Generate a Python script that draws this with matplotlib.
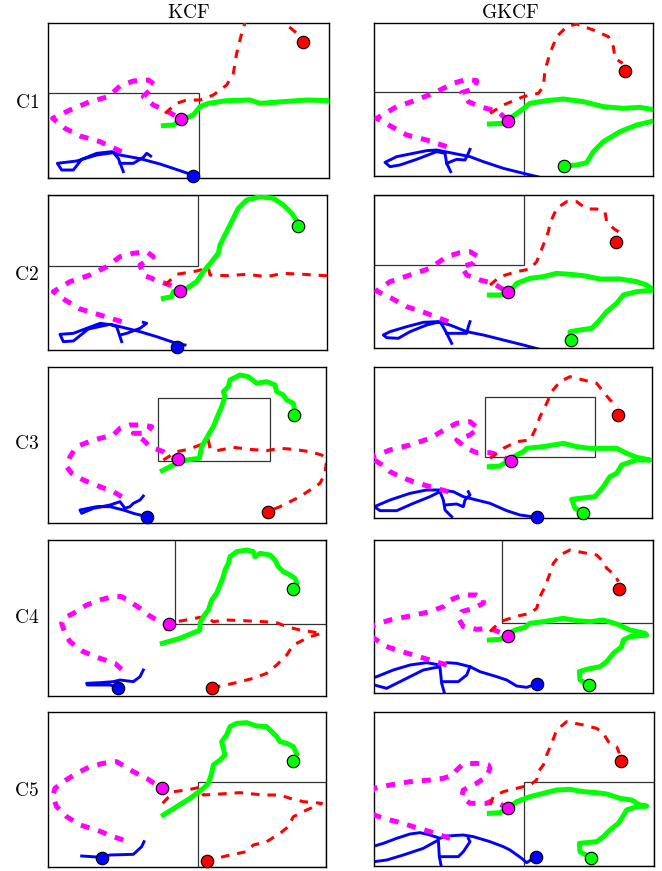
import numpy as np
import matplotlib
matplotlib.use("Agg")
import matplotlib.pyplot as plt
import matplotlib.patches as patches

plt.rcParams["mathtext.fontset"] = "cm"

W, H = 662, 871

RED = "#ff0000"
MAGENTA = "#ff00ff"
GREEN = "#00ff00"
BLUE = "#0000ff"

columns = ["KCF", "GKCF"]
rows = ["C1", "C2", "C3", "C4", "C5"]

# trajectories (image units, y grows downwards)
# ---- C1 ----
c1_kcf_red = [(495, 340), (530, 310), (560, 300), (600, 300), (640, 285), (680, 255), (700, 220), (710, 160),
              (725, 100), (735, 68), (745, 35), (790, 15), (840, 50), (860, 75), (885, 95), (905, 112)]
c1_kcf_magenta = [(365, 455), (300, 425), (240, 408), (195, 385), (158, 355), (210, 330), (270, 305), (325, 290),
                  (360, 258), (400, 243), (445, 240), (462, 252), (455, 265), (430, 290), (460, 315), (500, 333), (543, 357)]
c1_kcf_green = [(490, 377), (520, 375), (545, 360), (580, 345), (600, 320), (625, 310), (680, 302), (750, 300),
                (780, 310), (850, 305), (920, 300), (990, 302)]
c1_kcf_blue = [
    [(578, 525), (540, 512), (480, 492), (420, 476), (360, 465), (335, 455), (290, 460), (245, 478), (220, 510),
     (185, 510), (172, 490), (230, 483), (290, 465), (340, 458), (355, 475), (370, 515)],
    [(360, 490), (400, 490), (430, 472), (440, 460), (452, 468)],
]
c1_kcf_dots = {"red": (910, 125), "magenta": (543, 357), "blue": (578, 528)}
c1_kcf_inset = (145, 280, 597, 535)

c1_gkcf_red = [(480, 340), (520, 315), (580, 290), (625, 280), (640, 260), (645, 210), (660, 160), (680, 110),
               (710, 80), (740, 72), (790, 90), (835, 110), (850, 140), (855, 175), (878, 190)]
c1_gkcf_magenta = [(350, 440), (290, 420), (230, 405), (185, 380), (140, 355), (200, 320), (260, 300), (320, 275),
                   (370, 250), (410, 238), (440, 242), (435, 265), (395, 278), (415, 305), (450, 320), (505, 335), (533, 362)]
c1_gkcf_green = [(478, 372), (520, 370), (540, 355), (575, 330), (600, 310), (650, 302), (700, 297), (760, 305),
                 (820, 320), (880, 325), (930, 322), (975, 330), (1000, 345), (975, 362), (920, 375), (870, 395),
                 (820, 425), (790, 455), (770, 488), (740, 495), (703, 498)]
c1_gkcf_blue = [
    [(630, 532), (580, 520), (520, 505), (460, 485), (420, 470), (360, 458), (320, 450), (290, 452), (250, 460),
     (200, 470), (165, 487), (180, 500), (210, 495), (260, 478), (320, 455), (345, 460), (350, 490), (362, 515)],
    [(350, 490), (380, 478), (405, 480), (415, 460), (420, 448)],
]
c1_gkcf_dots = {"red": (885, 212), "magenta": (533, 362), "green": (703, 498)}
c1_gkcf_inset = (133, 276, 583, 527)

# ---- C2 ----
c2_kcf_red = [(495, 300), (530, 268), (590, 258), (625, 248), (630, 270), (680, 272), (740, 268), (800, 275),
              (850, 265), (910, 268), (975, 272), (1000, 272)]
c2_kcf_magenta = [(365, 410), (300, 390), (240, 372), (195, 345), (160, 320), (210, 290), (270, 270), (320, 245),
                  (360, 215), (400, 205), (440, 200), (460, 215), (420, 240), (430, 270), (480, 290), (510, 300), (540, 318)]
c2_kcf_green = [(490, 340), (515, 335), (520, 320), (560, 310), (590, 290), (610, 260), (635, 230), (655, 205),
                (660, 180), (680, 140), (700, 100), (715, 70), (740, 45), (780, 35), (820, 40), (850, 60), (875, 85), (893, 112)]
c2_kcf_blue = [
    [(555, 480), (520, 472), (470, 455), (420, 440), (380, 430), (340, 420), (300, 415), (260, 430), (220, 445),
     (180, 448), (190, 470), (220, 468), (265, 432), (330, 418), (350, 425), (365, 470)],
    [(360, 450), (380, 445), (420, 430), (440, 415), (430, 412)],
]
c2_kcf_dots = {"magenta": (540, 318), "green": (893, 122), "blue": (530, 485)}
c2_kcf_inset = (145, 30, 595, 243)

c2_gkcf_red = [(480, 300), (510, 275), (560, 260), (600, 252), (620, 230), (640, 180), (655, 140), (660, 115),
               (680, 70), (710, 50), (740, 50), (770, 72), (800, 72), (825, 80), (830, 110), (850, 130), (880, 150)]
c2_gkcf_magenta = [(355, 410), (290, 385), (230, 365), (185, 340), (140, 318), (180, 290), (240, 270), (300, 250),
                   (350, 215), (390, 203), (420, 200), (445, 215), (430, 235), (395, 245), (410, 270), (450, 285),
                   (490, 295), (533, 322)]
c2_gkcf_green = [(478, 330), (510, 330), (540, 320), (560, 295), (600, 280), (640, 275), (680, 265), (720, 268),
                 (760, 272), (810, 282), (870, 282), (920, 290), (950, 300), (970, 315), (920, 320), (880, 330),
                 (860, 355), (830, 380), (805, 410), (785, 430), (750, 435), (720, 440), (722, 465)]
c2_gkcf_blue = [
    [(625, 492), (580, 480), (520, 465), (460, 450), (410, 440), (360, 420), (320, 410), (280, 412), (230, 425),
     (180, 440), (160, 450), (170, 458), (205, 460), (240, 440), (290, 420), (330, 410), (345, 435), (365, 475)],
    [(350, 445), (410, 445), (415, 425), (420, 410)],
]
c2_gkcf_dots = {"red": (857, 172), "magenta": (533, 322), "green": (723, 465)}
c2_gkcf_inset = (133, 31, 583, 240)

# ---- C3 ----
c3_kcf_red = [(490, 300), (530, 275), (565, 268), (600, 255), (625, 240), (630, 265), (650, 272), (700, 262),
              (750, 268), (800, 272), (840, 265), (880, 268), (930, 275), (965, 285), (980, 300), (975, 340),
              (960, 370), (930, 390), (900, 410), (870, 425), (840, 440), (803, 455)]
c3_kcf_magenta = [(365, 410), (340, 395), (300, 380), (250, 360), (215, 340), (200, 320), (210, 290), (230, 260),
                  (280, 240), (340, 225), (360, 205), (390, 195), (430, 195), (455, 200), (440, 220), (400, 220),
                  (430, 240), (450, 260), (490, 275), (510, 290), (533, 298)]
c3_kcf_green = [(487, 332), (520, 315), (560, 300), (598, 295), (605, 260), (625, 225), (640, 200), (650, 175),
                (665, 140), (675, 110), (670, 95), (685, 80), (690, 60), (720, 45), (745, 50), (770, 70), (800, 65),
                (825, 75), (830, 95), (850, 105), (860, 120), (880, 130), (885, 155)]
c3_kcf_blue = [
    [(440, 470), (400, 460), (370, 450), (330, 440), (290, 440), (240, 450), (245, 460), (280, 445), (330, 435),
     (360, 425), (375, 445), (390, 440), (400, 430), (420, 420), (430, 408)],
]
c3_kcf_dots = {"red": (803, 455), "magenta": (533, 298), "green": (882, 165), "blue": (440, 470)}
c3_kcf_inset = (475, 115, 810, 302)

c3_gkcf_red = [(480, 295), (520, 265), (560, 245), (600, 240), (615, 210), (630, 170), (650, 130), (665, 95),
               (690, 65), (720, 50), (760, 60), (800, 70), (820, 95), (840, 120), (865, 140)]
c3_gkcf_magenta = [(355, 395), (300, 380), (250, 365), (210, 350), (180, 335), (165, 320), (133, 300), (110, 295),
                   (133, 288), (180, 270), (240, 255), (300, 235), (350, 205), (380, 190), (420, 185), (445, 205),
                   (420, 225), (380, 240), (410, 265), (440, 278), (480, 278), (505, 285), (543, 302)]
c3_gkcf_green = [(478, 320), (510, 318), (530, 305), (560, 285), (580, 275), (590, 265), (640, 260), (700, 250),
                 (740, 260), (780, 265), (860, 265), (890, 280), (920, 292), (960, 300), (920, 300), (875, 315),
                 (860, 340), (840, 350), (820, 380), (795, 410), (750, 415), (725, 418), (735, 445), (760, 458)]
c3_gkcf_blue = [
    [(620, 472), (570, 465), (530, 452), (480, 430), (440, 420), (400, 410), (370, 395), (330, 390), (290, 390),
     (240, 400), (180, 420), (133, 440), (150, 452), (200, 452), (250, 430), (300, 410), (330, 395), (340, 420),
     (345, 450), (365, 470)],
    [(345, 435), (380, 432), (400, 440), (405, 420), (420, 405), (415, 395)],
]
c3_gkcf_dots = {"red": (863, 165), "magenta": (543, 302), "green": (760, 458), "blue": (620, 472)}
c3_gkcf_inset = (464, 112, 796, 292)

# ---- C4 ----
c4_kcf_red = [(495, 300), (530, 275), (570, 268), (600, 262), (625, 265), (640, 275), (680, 270), (730, 272),
              (790, 275), (830, 278), (860, 290), (900, 300), (965, 310), (930, 320), (880, 345), (860, 375),
              (830, 405), (800, 430), (760, 445), (700, 460), (637, 473)]
c4_kcf_magenta = [(365, 418), (345, 400), (300, 385), (250, 365), (210, 335), (195, 310), (185, 280), (190, 265),
                  (220, 250), (260, 225), (300, 210), (345, 198), (365, 200), (390, 215), (420, 235), (445, 255),
                  (470, 270), (507, 282)]
c4_kcf_green = [(487, 340), (540, 325), (600, 300), (600, 280), (610, 260), (625, 240), (635, 210), (650, 190),
                (660, 165), (670, 140), (675, 120), (685, 100), (690, 80), (710, 65), (740, 60), (760, 65), (765, 80),
                (780, 70), (810, 75), (825, 90), (835, 110), (850, 125), (870, 135), (885, 145), (890, 158)]
c4_kcf_blue = [
    [(430, 420), (420, 440), (400, 455), (360, 450), (340, 455), (300, 458), (260, 460), (262, 465), (330, 465),
     (355, 472)],
]
c4_kcf_dots = {"red": (637, 473), "magenta": (507, 282), "green": (878, 178), "blue": (355, 473)}
c4_kcf_inset = (525, 30, 978, 282)

c4_gkcf_red = [(480, 305), (500, 285), (520, 272), (555, 260), (600, 250), (620, 235), (630, 200), (645, 170),
               (660, 130), (670, 100), (690, 75), (720, 60), (760, 68), (800, 75), (820, 95), (830, 115), (855, 135),
               (865, 155)]
c4_gkcf_magenta = [(350, 405), (300, 390), (250, 375), (200, 360), (165, 348), (140, 330), (110, 310), (133, 285),
                   (180, 270), (240, 258), (300, 245), (340, 230), (360, 210), (400, 195), (440, 195), (460, 205),
                   (460, 220), (430, 235), (395, 245), (385, 265), (400, 290), (440, 298), (480, 295), (505, 305),
                   (533, 318)]
c4_gkcf_green = [(478, 330), (510, 328), (530, 315), (555, 300), (585, 292), (600, 280), (640, 275), (700, 265),
                 (740, 272), (780, 275), (820, 270), (860, 282), (900, 300), (945, 310), (950, 315), (900, 320),
                 (880, 330), (875, 350), (850, 370), (830, 395), (810, 410), (770, 418), (748, 425), (750, 450),
                 (778, 465)]
c4_gkcf_blue = [
    [(620, 462), (590, 472), (560, 468), (530, 450), (500, 440), (450, 425), (420, 410), (380, 400), (350, 398),
     (330, 405), (290, 398), (240, 405), (190, 420), (140, 440), (110, 450)],
    [(110, 462), (133, 465), (170, 475), (220, 450), (280, 420), (320, 412), (330, 412), (335, 460), (345, 495)],
    [(340, 455), (385, 455), (410, 435), (420, 410)],
]
c4_gkcf_dots = {"red": (868, 178), "magenta": (533, 318), "green": (778, 465), "blue": (620, 462)}
c4_gkcf_inset = (515, 30, 968, 278)

# ---- C5 ----
c5_kcf_red = [(488, 310), (520, 275), (560, 270), (600, 262), (610, 285), (660, 282), (720, 278), (790, 285),
              (840, 285), (870, 295), (910, 305), (965, 310), (920, 330), (880, 350), (865, 380), (840, 400),
              (800, 425), (760, 435), (740, 455), (690, 465), (622, 482)]
c5_kcf_magenta = [(370, 420), (340, 410), (290, 390), (240, 375), (200, 350), (170, 320), (158, 290), (165, 265),
                  (190, 245), (230, 220), (270, 200), (310, 190), (350, 185), (375, 200), (400, 215), (440, 235),
                  (485, 265)]
c5_kcf_green = [(490, 345), (530, 320), (570, 295), (610, 265), (625, 250), (635, 220), (640, 195), (660, 180),
                (675, 165), (670, 145), (665, 125), (680, 105), (690, 80), (710, 70), (740, 68), (770, 78), (800, 80),
                (815, 95), (830, 110), (840, 125), (860, 130), (880, 140), (890, 162)]
c5_kcf_blue = [
    [(245, 468), (275, 470), (307, 472), (330, 465), (400, 463), (425, 440), (432, 425)],
]
c5_kcf_dots = {"red": (622, 482), "magenta": (485, 265), "green": (878, 183), "blue": (307, 475)}
c5_kcf_inset = (595, 247, 978, 500)

c5_gkcf_red = [(480, 315), (490, 290), (520, 275), (560, 265), (600, 255), (620, 240), (625, 215), (640, 195),
               (650, 165), (665, 130), (680, 90), (710, 65), (760, 75), (800, 85), (820, 100), (835, 125), (860, 140),
               (868, 160)]
c5_gkcf_magenta = [(360, 415), (300, 395), (250, 380), (200, 365), (160, 355), (133, 345), (100, 310), (133, 265),
                   (180, 255), (240, 245), (300, 240), (340, 235), (370, 225), (380, 210), (400, 192), (440, 190),
                   (475, 195), (480, 205), (470, 230), (440, 250), (400, 270), (395, 290), (420, 310), (470, 310),
                   (490, 300), (533, 325)]
c5_gkcf_green = [(478, 340), (510, 338), (540, 320), (560, 305), (600, 290), (640, 280), (680, 270), (720, 268),
                 (760, 275), (800, 278), (830, 282), (870, 295), (905, 300), (930, 315), (950, 318), (920, 320),
                 (890, 330), (878, 350), (865, 370), (840, 390), (820, 410), (800, 425), (770, 428), (748, 430),
                 (750, 455), (782, 473)]
c5_gkcf_blue = [
    [(618, 470), (590, 488), (575, 475), (540, 450), (520, 440), (480, 425), (430, 410), (400, 405), (350, 408),
     (330, 415), (300, 405), (270, 398), (240, 402), (200, 415), (160, 430), (110, 445)],
    [(110, 488), (133, 485), (170, 480), (220, 465), (280, 445), (325, 420), (328, 470), (335, 505)],
    [(330, 470), (385, 470), (400, 455), (410, 440), (420, 425), (415, 415)],
]
c5_gkcf_dots = {"red": (872, 182), "magenta": (533, 325), "green": (782, 473), "blue": (618, 470)}
c5_gkcf_inset = (583, 247, 972, 498)

# layout: offset of each panel (px) and its data window (x0, x1, y0, y1) in data units (3 units = 1 px)
layout = [
    [((0, 0), (145, 988, 68, 535)), ((330, 0), (133, 970, 68, 527))],
    [((0, 185), (145, 982, 30, 495)), ((330, 185), (133, 970, 31, 490))],
    [((0, 360), (145, 978, 20, 490)), ((330, 360), (133, 965, 20, 475))],
    [((0, 530), (145, 978, 30, 497)), ((330, 530), (133, 968, 30, 490))],
    [((0, 700), (145, 978, 35, 500)), ((330, 700), (133, 972, 35, 498))],
]

panels = [
    [(c1_kcf_red, c1_kcf_magenta, c1_kcf_green, c1_kcf_blue, c1_kcf_dots, c1_kcf_inset),
     (c1_gkcf_red, c1_gkcf_magenta, c1_gkcf_green, c1_gkcf_blue, c1_gkcf_dots, c1_gkcf_inset)],
    [(c2_kcf_red, c2_kcf_magenta, c2_kcf_green, c2_kcf_blue, c2_kcf_dots, c2_kcf_inset),
     (c2_gkcf_red, c2_gkcf_magenta, c2_gkcf_green, c2_gkcf_blue, c2_gkcf_dots, c2_gkcf_inset)],
    [(c3_kcf_red, c3_kcf_magenta, c3_kcf_green, c3_kcf_blue, c3_kcf_dots, c3_kcf_inset),
     (c3_gkcf_red, c3_gkcf_magenta, c3_gkcf_green, c3_gkcf_blue, c3_gkcf_dots, c3_gkcf_inset)],
    [(c4_kcf_red, c4_kcf_magenta, c4_kcf_green, c4_kcf_blue, c4_kcf_dots, c4_kcf_inset),
     (c4_gkcf_red, c4_gkcf_magenta, c4_gkcf_green, c4_gkcf_blue, c4_gkcf_dots, c4_gkcf_inset)],
    [(c5_kcf_red, c5_kcf_magenta, c5_kcf_green, c5_kcf_blue, c5_kcf_dots, c5_kcf_inset),
     (c5_gkcf_red, c5_gkcf_magenta, c5_gkcf_green, c5_gkcf_blue, c5_gkcf_dots, c5_gkcf_inset)],
]

dot_colors = {"red": RED, "magenta": MAGENTA, "green": GREEN, "blue": BLUE}


def draw_panel(ax, red, magenta, green, blue, dots, inset):
    for seg in blue:
        xy = np.array(seg)
        ax.plot(xy[:, 0], xy[:, 1], color=BLUE, lw=2.1, solid_joinstyle="round", zorder=2)
    xy = np.array(magenta)
    ax.plot(xy[:, 0], xy[:, 1], color=MAGENTA, lw=3.6, linestyle=(0, (1.8, 1.8)), zorder=3)
    xy = np.array(red)
    ax.plot(xy[:, 0], xy[:, 1], color=RED, lw=2.2, linestyle=(0, (2.8, 2.6)), zorder=4)
    xy = np.array(green)
    ax.plot(xy[:, 0], xy[:, 1], color=GREEN, lw=3.6, solid_joinstyle="round", zorder=5)

    x0, y0, x1, y1 = inset
    ax.add_patch(patches.Rectangle((x0, y0), x1 - x0, y1 - y0, fill=False,
                                   ec="#333333", lw=0.9, zorder=1))

    for name, (px, py) in dots.items():
        ax.plot(px, py, "o", ms=9, mfc=dot_colors[name], mec="black", mew=0.8,
                zorder=10, clip_on=False)


fig = plt.figure(figsize=(W / 100, H / 100), dpi=100)

for r, row in enumerate(panels):
    for c, args in enumerate(row):
        (ox, oy), (x0, x1, y0, y1) = layout[r][c]
        left = ox + x0 / 3
        right = ox + x1 / 3
        top = oy + y0 / 3
        bottom = oy + y1 / 3
        ax = fig.add_axes([left / W, 1 - bottom / H, (right - left) / W, (bottom - top) / H])
        draw_panel(ax, *args)
        ax.set_xlim(x0, x1)
        ax.set_ylim(y1, y0)
        ax.set_xticks([])
        ax.set_yticks([])
        for s in ax.spines.values():
            s.set_linewidth(1.0)
            s.set_color("black")

# column titles and row labels
title_x = [189, 510]
for name, tx in zip(columns, title_x):
    fig.text(tx / W, 1 - 12.5 / H, r"$\mathrm{" + name + "}$", ha="center", va="center", fontsize=14)

label_y = [102, 275, 443, 617, 790]
for name, ly in zip(rows, label_y):
    fig.text(39 / W, 1 - ly / H, r"$\mathrm{" + name + "}$", ha="right", va="center", fontsize=14)

fig.savefig("out.png", dpi=100)
